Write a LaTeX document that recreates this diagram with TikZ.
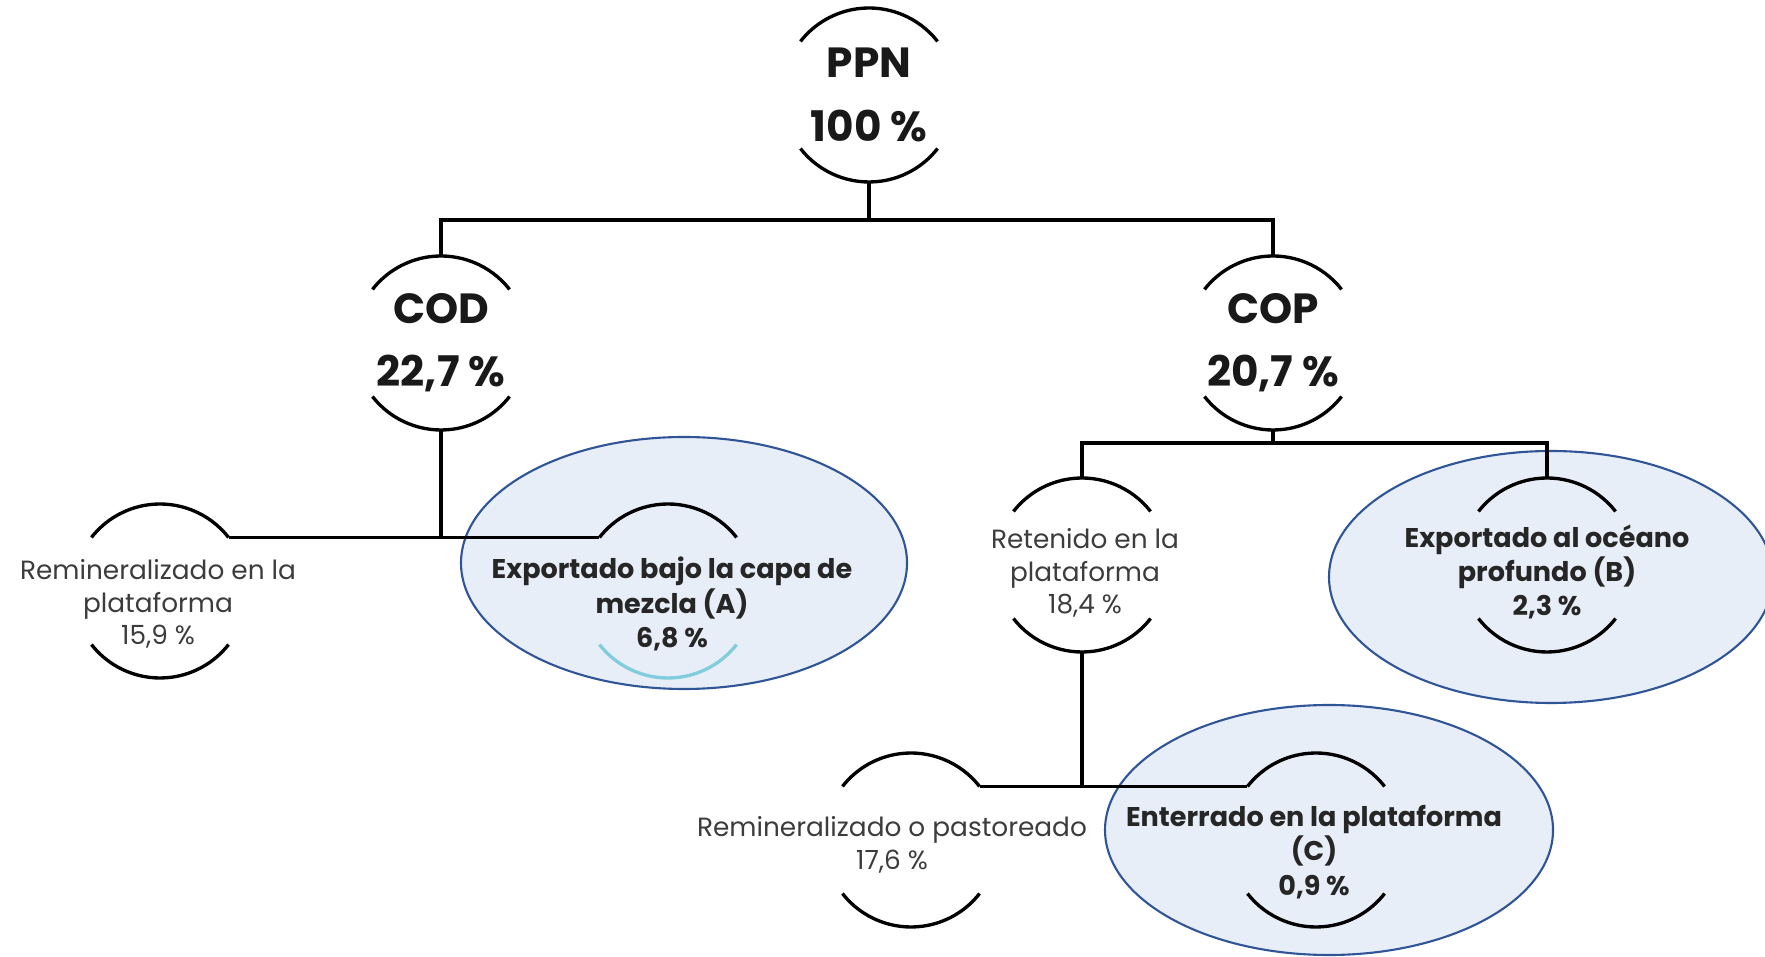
\documentclass[tikz,border=0pt]{standalone}
\usepackage{fontspec}
\setmainfont{Poppins}
\usetikzlibrary{calc}

\definecolor{ovalfill}{RGB}{232,238,248}
\definecolor{ovalline}{RGB}{47,85,151}
\definecolor{arcA}{RGB}{130,205,220}
\definecolor{txtgray}{RGB}{60,60,60}

\begin{document}
\begin{tikzpicture}[
  ring/.style={circle, inner sep=0pt, outer sep=0pt, minimum size=1.74cm},
  bigtxt/.style={font=\bfseries\fontsize{12}{18}\selectfont, text=black!90, align=center},
  smalltxt/.style={font=\fontsize{7.5}{9.2}\selectfont, text=txtgray, align=center},
  boldtxt/.style={font=\bfseries\fontsize{7.7}{9.8}\selectfont, text=black!85, align=center},
  oval/.style={fill=ovalfill, draw=ovalline, line width=0.6pt},
  link/.style={line width=0.95pt}
]
\useasboundingbox (0,0) rectangle (17.65,9.56);

% shaded ovals (A), (B), (C)
\draw[oval] (6.84,3.93) ellipse [x radius=2.23, y radius=1.26];
\draw[oval] (15.51,3.79) ellipse [x radius=2.22, y radius=1.26];
\draw[oval] (13.29,1.26) ellipse [x radius=2.24, y radius=1.25];

% rings
\node[ring] (ppn) at (8.69,8.61) {};
\node[ring] (cod) at (4.41,6.13) {};
\node[ring] (cop) at (12.73,6.13) {};
\node[ring] (remA) at (1.60,3.65) {};
\node[ring] (expA) at (6.68,3.65) {};
\node[ring] (ret) at (10.82,3.91) {};
\node[ring] (expB) at (15.47,3.91) {};
\node[ring] (remB) at (9.11,1.16) {};
\node[ring] (expC) at (13.16,1.16) {};

\foreach \n/\c in {ppn/black, cod/black, cop/black, remA/black, expA/arcA, ret/black, expB/black, remB/black, expC/black} {
  \draw[link] (\n.38) arc[start angle=38, end angle=142, radius=0.87];
  \draw[link, \c] (\n.218) arc[start angle=218, end angle=322, radius=0.87];
}

% texts
\node[bigtxt] (ppn-t) at (ppn) {PPN\\100 \%};
\node[bigtxt] (cod-t) at (cod) {COD\\22,7 \%};
\node[bigtxt] (cop-t) at (cop) {COP\\20,7 \%};
\node[smalltxt] (remA-t) at (1.58,3.52) {Remineralizado en la\\plataforma\\15,9 \%};
\node[boldtxt] (expA-t) at (6.72,3.52) {Exportado bajo la capa de\\mezcla (A)\\6,8 \%};
\node[smalltxt] (ret-t) at (10.85,3.83) {Retenido en la\\plataforma\\18,4 \%};
\node[boldtxt] (expB-t) at (15.47,3.84) {Exportado al océano\\profundo (B)\\2,3 \%};
\node[smalltxt] (remB-t) at (8.92,1.11) {Remineralizado o pastoreado\\17,6 \%};
\node[boldtxt] (expC-t) at (13.14,1.04) {Enterrado en la plataforma\\(C)\\0,9 \%};

% connectors
\draw[link] (ppn.south) -- ++(0,-0.38) coordinate (j1);
\draw[link] (cod.north) |- (j1) -| (cop.north);
\draw[link] (cod.south) -- (cod.south |- remA.38);
\draw[link] (remA.38) -- (expA.142);
\draw[link] (cop.south) -- ++(0,-0.13) coordinate (j2);
\draw[link] (ret.north) |- (j2) -| (expB.north);
\draw[link] (ret.south) -- (ret.south |- remB.38);
\draw[link] (remB.38) -- (expC.142);
\end{tikzpicture}
\end{document}
